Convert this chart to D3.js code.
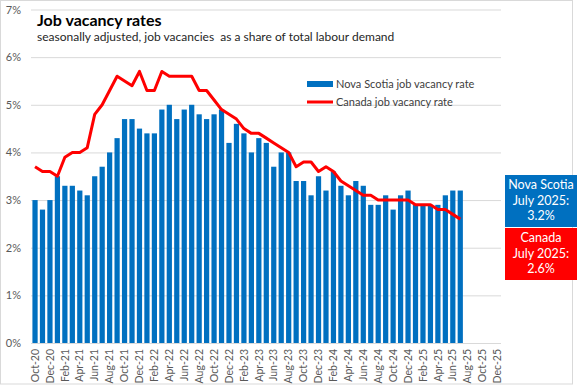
<!DOCTYPE html>
<html>
<head>
<meta charset="utf-8">
<script src="https://cdn.jsdelivr.net/npm/d3@7"></script>
<style>
	body { margin: 0; background: #fff; }
	svg { display: block; font-family: Lato, 'Liberation Sans', sans-serif; }
</style>
</head>
<body>
<svg id="chart"></svg>
<script>
// month categories on the x axis (bars/line only go to Jul-25)
const months = [
	'Oct-20','Nov-20','Dec-20','Jan-21','Feb-21','Mar-21','Apr-21','May-21','Jun-21','Jul-21','Aug-21','Sep-21',
	'Oct-21','Nov-21','Dec-21','Jan-22','Feb-22','Mar-22','Apr-22','May-22','Jun-22','Jul-22','Aug-22','Sep-22',
	'Oct-22','Nov-22','Dec-22','Jan-23','Feb-23','Mar-23','Apr-23','May-23','Jun-23','Jul-23','Aug-23','Sep-23',
	'Oct-23','Nov-23','Dec-23','Jan-24','Feb-24','Mar-24','Apr-24','May-24','Jun-24','Jul-24','Aug-24','Sep-24',
	'Oct-24','Nov-24','Dec-24','Jan-25','Feb-25','Mar-25','Apr-25','May-25','Jun-25','Jul-25','Aug-25','Sep-25',
	'Oct-25','Nov-25','Dec-25'
]

// Nova Scotia job vacancy rate, %
const novaScotia = [
	3.0, 2.8, 3.0, 3.5, 3.3, 3.3, 3.2, 3.1, 3.5, 3.7, 4.0, 4.3,
	4.7, 4.7, 4.5, 4.4, 4.4, 4.9, 5.0, 4.7, 4.9, 5.0, 4.8, 4.7,
	4.8, 4.9, 4.2, 4.6, 4.4, 4.0, 4.3, 4.2, 3.7, 4.0, 4.0, 3.4,
	3.4, 3.1, 3.5, 3.2, 3.6, 3.3, 3.1, 3.4, 3.3, 2.9, 2.9, 3.1,
	2.8, 3.1, 3.2, 2.9, 2.9, 2.9, 2.9, 3.1, 3.2, 3.2
]

// Canada job vacancy rate, %
const canada = [
	3.7, 3.6, 3.6, 3.5, 3.9, 4.0, 4.0, 4.1, 4.8, 5.0, 5.3, 5.6,
	5.5, 5.4, 5.7, 5.3, 5.3, 5.7, 5.6, 5.6, 5.6, 5.6, 5.3, 5.3,
	5.1, 4.9, 4.8, 4.7, 4.5, 4.4, 4.4, 4.3, 4.2, 4.1, 4.0, 3.7,
	3.8, 3.8, 3.6, 3.7, 3.6, 3.4, 3.3, 3.2, 3.1, 3.1, 3.0, 3.0,
	3.0, 3.0, 3.0, 2.9, 2.9, 2.9, 2.8, 2.8, 2.7, 2.6
]

const yTicks = [0, 1, 2, 3, 4, 5, 6, 7]
const tickMonths = months.filter((m, i) => i % 2 === 0)

const blue = '#0070c0'
const red = '#ff0000'
const grey = '#595959'

const W = 577, H = 385
const svg = d3.select('#chart').attr('width', W).attr('height', H)

// chart area border
svg.append('rect')
	.attr('x', 0.5).attr('y', 0.5)
	.attr('width', W - 5).attr('height', H - 1.5)
	.attr('fill', '#fff').attr('stroke', '#d9d9d9')

let x = d3.scaleBand().domain(months)
	.range([31.3, 501.3])
	.paddingInner(0.3).paddingOuter(0.15)
let y = d3.scaleLinear().domain([0, 7]).range([343, 9.5])

// gridlines + y labels
let yAxis = svg.append('g')
	.attr('transform', 'translate(31,0)')
	.call(d3.axisLeft(y).tickValues(yTicks).tickSize(-(501 - 31)).tickPadding(10)
		.tickFormat(d => d + '%'))
yAxis.select('.domain').remove()
yAxis.selectAll('line').attr('stroke', '#d9d9d9')
yAxis.selectAll('text')
	.attr('fill', grey).attr('font-size', 11).attr('font-family', 'Lato')

// bars
svg.append('g').selectAll('rect')
	.data(novaScotia).enter().append('rect')
	.attr('x', (d, i) => x(months[i]))
	.attr('y', d => y(d))
	.attr('width', x.bandwidth())
	.attr('height', d => y(0) - y(d))
	.attr('fill', blue)

// x axis
let xAxis = svg.append('g')
	.attr('transform', `translate(0,${y(0)})`)
	.call(d3.axisBottom(x).tickValues(tickMonths).tickSize(0).tickPadding(6))
xAxis.select('.domain').attr('stroke', '#d9d9d9').attr('d', 'M31,0.5H501')
xAxis.selectAll('text')
	.attr('fill', grey).attr('font-size', 10.5).attr('font-family', 'Lato')
	.attr('text-anchor', 'end')
	.attr('transform', 'rotate(-90)')
	.attr('x', -6).attr('y', 0).attr('dy', '0.35em')

// Canada line
let line = d3.line()
	.x((d, i) => x(months[i]) + x.bandwidth() / 2)
	.y(d => y(d))
svg.append('path')
	.datum(canada)
	.attr('d', line)
	.attr('fill', 'none')
	.attr('stroke', red)
	.attr('stroke-width', 3)
	.attr('stroke-linejoin', 'round')

// title
svg.append('text')
	.attr('x', 37).attr('y', 26)
	.attr('font-size', 16).attr('font-weight', 'bold').attr('fill', '#000')
	.text('Job vacancy rates')
svg.append('text')
	.attr('x', 37).attr('y', 41)
	.attr('font-size', 12).attr('fill', '#262626')
	.text('seasonally adjusted, job vacancies  as a share of total labour demand')
	.style('white-space', 'pre')

// legend
let legend = svg.append('g').attr('transform', 'translate(307,84)')
legend.append('rect')
	.attr('x', 0).attr('y', -3).attr('width', 26).attr('height', 6)
	.attr('fill', blue)
legend.append('text')
	.attr('x', 29).attr('y', 0).attr('dy', '0.35em')
	.attr('font-size', 11).attr('fill', '#404040')
	.text('Nova Scotia job vacancy rate')
legend.append('line')
	.attr('x1', 0).attr('x2', 26).attr('y1', 18).attr('y2', 18)
	.attr('stroke', red).attr('stroke-width', 3)
legend.append('text')
	.attr('x', 29).attr('y', 18).attr('dy', '0.35em')
	.attr('font-size', 11).attr('fill', '#404040')
	.text('Canada job vacancy rate')

// callout boxes
let notes = [
	{ lines: ['Nova Scotia', 'July 2025:', novaScotia[novaScotia.length - 1].toFixed(1) + '%'], fill: blue, y0: 175 },
	{ lines: ['Canada', 'July 2025:', canada[canada.length - 1].toFixed(1) + '%'], fill: red, y0: 228 }
]
notes.forEach(n => {
	let g = svg.append('g')
	g.append('rect')
		.attr('x', 505).attr('y', n.y0).attr('width', 72).attr('height', 52)
		.attr('fill', n.fill)
	g.selectAll('text').data(n.lines).enter().append('text')
		.attr('x', 541).attr('y', (d, i) => n.y0 + 14 + i * 15.5)
		.attr('text-anchor', 'middle')
		.attr('font-size', 12.5).attr('fill', '#fff')
		.text(d => d)
})
</script>
</body>
</html>
